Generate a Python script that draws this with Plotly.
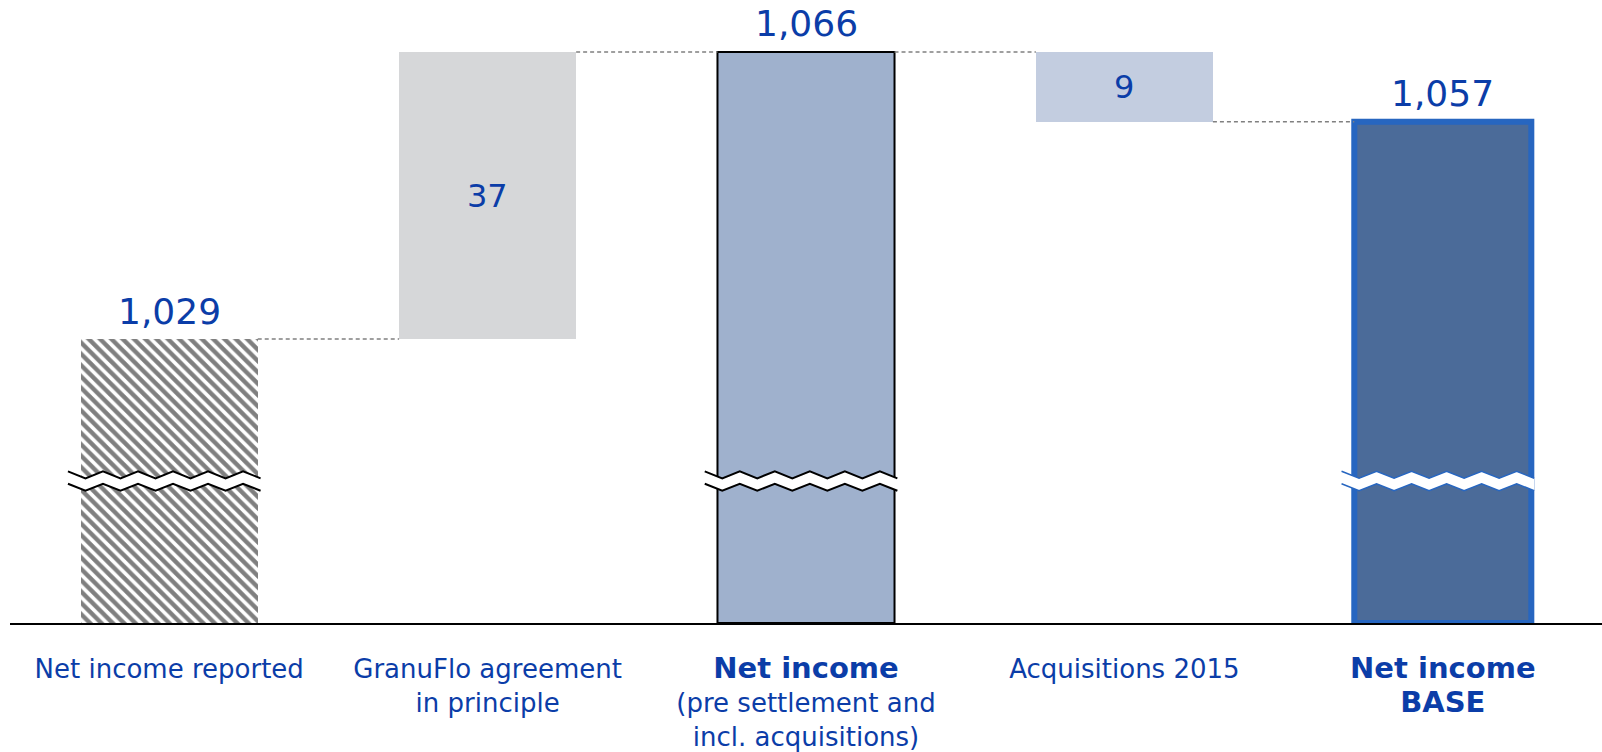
import plotly.graph_objects as go

# data
BOLD = '<span style="font-size:29px"><b>{}</b></span>'
categories = [
    "Net income reported",
    "GranuFlo agreement<br>in principle",
    BOLD.format("Net income") + "<br>(pre settlement and<br>incl. acquisitions)",
    "Acquisitions 2015",
    BOLD.format("Net income") + "<br>" + BOLD.format("BASE"),
]
measures = ["absolute", "relative", "total", "relative", "total"]
values = [1029, 37, 1066, -9, 1057]

# style
BLUE_TEXT = "#0b3da8"
FONT = "DejaVu Sans"
Y_MIN, Y_MAX = 992.4, 1072.7
BAR_W = 0.556
BREAK_Y = 1010.7  # where the axis break marks sit

fills = ["white", "#d6d7d9", "#9fb1cd", "#c3cde0", "#4b6b99"]
edges = [None, None, "#000000", None, "#2766c0"]
edge_w = [0, 0, 2, 0, 6]
broken = [True, False, True, False, True]
break_color = ["#000000", None, "#000000", None, "#2766c0"]

# running totals -> bar bases and levels
bases, heights, levels = [], [], []
run = 0
for m, v in zip(measures, values):
    if m == "relative":
        bases.append(run)
        heights.append(v)
        run += v
    else:
        bases.append(0)
        heights.append(v)
        run = v
    levels.append(run)

xs = list(range(len(categories)))

fig = go.Figure()
for i in xs:
    marker = dict(color=fills[i], line=dict(width=0))
    if i == 0:
        marker["pattern"] = dict(shape="\\", fgcolor="#000000", bgcolor="white",
                                 size=8, solidity=0.55)
    fig.add_trace(go.Bar(x=[i], y=[heights[i]], base=[bases[i]], width=BAR_W,
                         marker=marker, showlegend=False, hoverinfo="skip"))

# bar outlines
for i in xs:
    if edges[i]:
        fig.add_shape(type="rect", x0=i - BAR_W / 2, x1=i + BAR_W / 2,
                      y0=Y_MIN, y1=levels[i],
                      line=dict(color=edges[i], width=edge_w[i]))

# connectors
for i in xs[:-1]:
    fig.add_shape(type="line", x0=i + BAR_W / 2, x1=i + 1 - BAR_W / 2,
                  y0=levels[i], y1=levels[i],
                  line=dict(color="#808080", width=1.5, dash="4px,3px"))

# value labels
for i in xs:
    if measures[i] == "relative":
        fig.add_annotation(x=i, y=bases[i] + heights[i] / 2, text=f"{abs(values[i]):,}",
                           showarrow=False, font=dict(family=FONT, size=32, color=BLUE_TEXT))
    else:
        fig.add_annotation(x=i, y=levels[i], yanchor="middle", yshift=28,
                           text=f"{values[i]:,}", showarrow=False,
                           font=dict(family=FONT, size=36, color=BLUE_TEXT))

# axis break marks
amp = 0.45
gap = 1.6
period = 0.11
for i in xs:
    if not broken[i]:
        continue
    x0, x1 = i - BAR_W / 2 - 0.04, i + BAR_W / 2 + 0.04
    pts = []
    x = x0
    k = 0
    while x < x1 + 1e-9:
        pts.append((x, amp if k % 2 == 0 else -amp))
        x += period / 2
        k += 1
    up = [(px, BREAK_Y + gap / 2 + dy) for px, dy in pts]
    lo = [(px, BREAK_Y - gap / 2 + dy) for px, dy in pts]
    band = "M " + " L ".join(f"{a},{b}" for a, b in up) + " L " + \
        " L ".join(f"{a},{b}" for a, b in reversed(lo)) + " Z"
    fig.add_shape(type="path", path=band, fillcolor="white", line=dict(width=0))
    lw = 1.5 if i == 4 else 2
    for line_pts in (up, lo):
        p = "M " + " L ".join(f"{a},{b}" for a, b in line_pts)
        fig.add_shape(type="path", path=p, line=dict(color=break_color[i], width=lw))

fig.update_layout(
    width=1602, height=752,
    paper_bgcolor="white", plot_bgcolor="white",
    margin=dict(l=10, r=0, t=0, b=125),
    font=dict(family=FONT, color=BLUE_TEXT),
    bargap=0,
)
fig.update_xaxes(range=[-0.5, 4.5], tickvals=xs, ticktext=categories,
                 showgrid=False, zeroline=False, showline=True, linecolor="black",
                 linewidth=2, ticks="", tickfont=dict(family=FONT, size=26, color=BLUE_TEXT),
                 ticklabelstandoff=22)
fig.update_yaxes(range=[Y_MIN, Y_MAX], visible=False, showgrid=False)

fig.write_html("out.html", config={"displayModeBar": False},
               post_script="document.body.style.margin='0';")
